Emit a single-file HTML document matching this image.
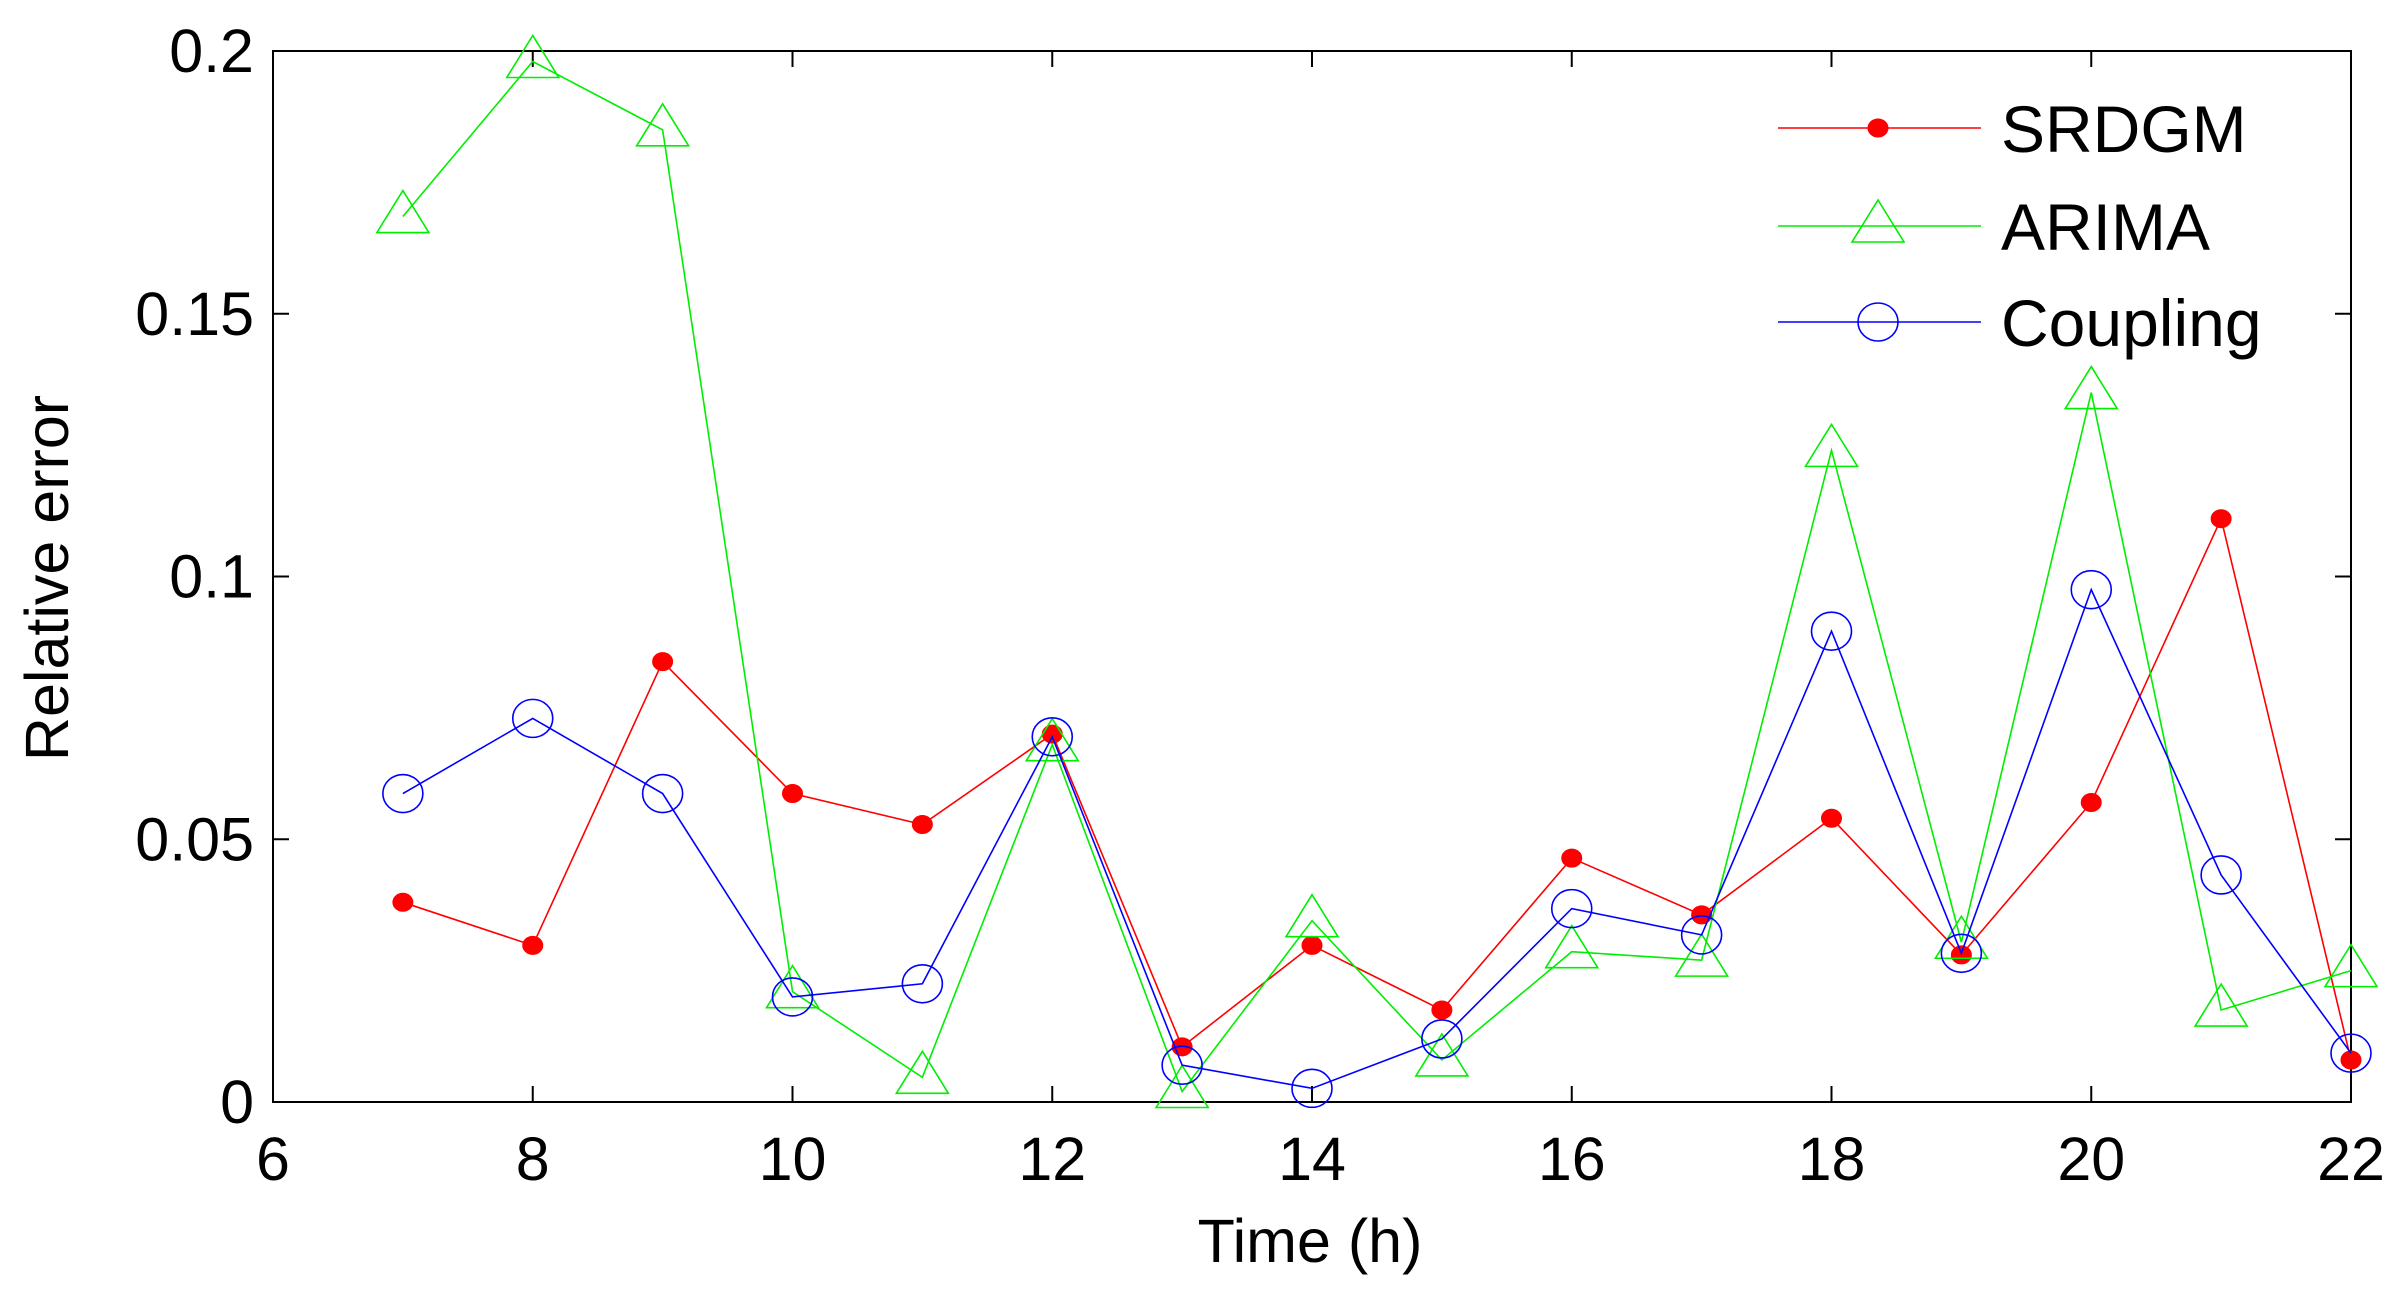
<!DOCTYPE html>
<html><head><meta charset="utf-8"><style>
html,body{margin:0;padding:0;background:#fff;}
svg{display:block;font-family:"Liberation Sans",Arial,sans-serif;}
</style></head><body>
<svg id="chart" width="2405" height="1292" viewBox="0 0 2405 1292" xmlns="http://www.w3.org/2000/svg">
<rect width="2405" height="1292" fill="#fff"/>
<g id="axes"></g>
<g id="series"></g>
<g id="legend"></g>
</svg>
<script>
const hours = [7,8,9,10,11,12,13,14,15,16,17,18,19,20,21,22];
const srdgm = [0.038,0.0298,0.0838,0.0587,0.0528,0.070,0.0105,0.0298,0.0175,0.0464,0.0356,0.054,0.028,0.057,0.111,0.008];
const arima = [0.1685,0.198,0.185,0.021,0.0047,0.068,0.002,0.0345,0.008,0.0286,0.027,0.124,0.0304,0.135,0.0175,0.025];
const coupling = [0.0587,0.073,0.0587,0.020,0.0225,0.0695,0.007,0.0026,0.012,0.0368,0.0318,0.0896,0.0283,0.0975,0.0432,0.0093];
const xTicks = [6,8,10,12,14,16,18,20,22];
const yTicks = [0,0.05,0.1,0.15,0.2];
const yTickLabels = ["0","0.05","0.1","0.15","0.2"];
const seriesNames = ["SRDGM","ARIMA","Coupling"];

const L=273,R=2351,T=51,B=1102;
const xMin=6,xMax=22,yMin=0,yMax=0.2;
function sx(v){return L+(v-xMin)/(xMax-xMin)*(R-L);}
function sy(v){return B-(v-yMin)/(yMax-yMin)*(B-T);}
const NS="http://www.w3.org/2000/svg";
function mk(tag,attrs,parent){const e=document.createElementNS(NS,tag);for(const k in attrs)e.setAttribute(k,attrs[k]);parent.appendChild(e);return e;}
const axes=document.getElementById('axes');
const box=mk('rect',{x:L,y:T,width:R-L,height:B-T,fill:'none',stroke:'#000','stroke-width':2},axes);


xTicks.forEach(v=>{
  const x=sx(v);
  const t1=mk('line',{x1:x,y1:B,x2:x,y2:B-16,stroke:'#000','stroke-width':2},axes);
  
  
  const t2=mk('line',{x1:x,y1:T,x2:x,y2:T+16,stroke:'#000','stroke-width':2},axes);
  
  
  const lb=mk('text',{x:x,y:1180,'font-size':61,'text-anchor':'middle',fill:'#000'},axes);
  lb.textContent=v;
  
  
});
yTicks.forEach((v,i)=>{
  const y=sy(v);
  const t1=mk('line',{x1:L,y1:y,x2:L+16,y2:y,stroke:'#000','stroke-width':2},axes);
  
  
  const t2=mk('line',{x1:R,y1:y,x2:R-16,y2:y,stroke:'#000','stroke-width':2},axes);
  
  
  const lb=mk('text',{x:254,y:y+21,'font-size':61,'text-anchor':'end',fill:'#000'},axes);
  lb.textContent=yTickLabels[i];
  
  
});
const xt=mk('text',{x:1310,y:1262,'font-size':61,'text-anchor':'middle',fill:'#000'},axes);
xt.textContent='Time (h)';


const yt=mk('text',{x:0,y:0,'font-size':61,'text-anchor':'middle',fill:'#000',transform:'translate(68,578) rotate(-90)'},axes);
yt.textContent='Relative error';



function marker(kind,x,y,color,g){
  let e;
  if(kind==='dot') e=mk('ellipse',{cx:x,cy:y,rx:10,ry:9,fill:color,stroke:color},g);
  else if(kind==='tri') e=mk('polygon',{points:`${x},${y-26} ${x-26},${y+16} ${x+26},${y+16}`,fill:'none',stroke:color,'stroke-width':1.6},g);
  else e=mk('ellipse',{cx:x,cy:y,rx:20,ry:19,fill:'none',stroke:color,'stroke-width':1.6},g);
  return e;
}
const ser=document.getElementById('series');
const defs=[[srdgm,'#ff0000','dot'],[arima,'#00ee00','tri'],[coupling,'#0000ff','circ']];
defs.forEach((d,si)=>{
  const g=mk('g',{},ser);
  
  
  const pts=hours.map((h,i)=>sx(h)+','+sy(d[0][i])).join(' ');
  const pl=mk('polyline',{points:pts,fill:'none',stroke:d[1],'stroke-width':1.6},g);
  
  
  hours.forEach((h,i)=>{
    const m=marker(d[2],sx(h),sy(d[0][i]),d[1],g);
    
    
  });
});
const leg=document.getElementById('legend');
const rows=[128,226,322];
defs.forEach((d,si)=>{
  const g=mk('g',{},leg);
  
  
  mk('line',{x1:1778,y1:rows[si],x2:1981,y2:rows[si],stroke:d[1],'stroke-width':1.6},g);
  marker(d[2],1878,rows[si],d[1],g);
  const t=mk('text',{x:2001,y:rows[si]+24,'font-size':66,fill:'#000'},g);
  t.textContent=seriesNames[si];
});
</script>
</body></html>
